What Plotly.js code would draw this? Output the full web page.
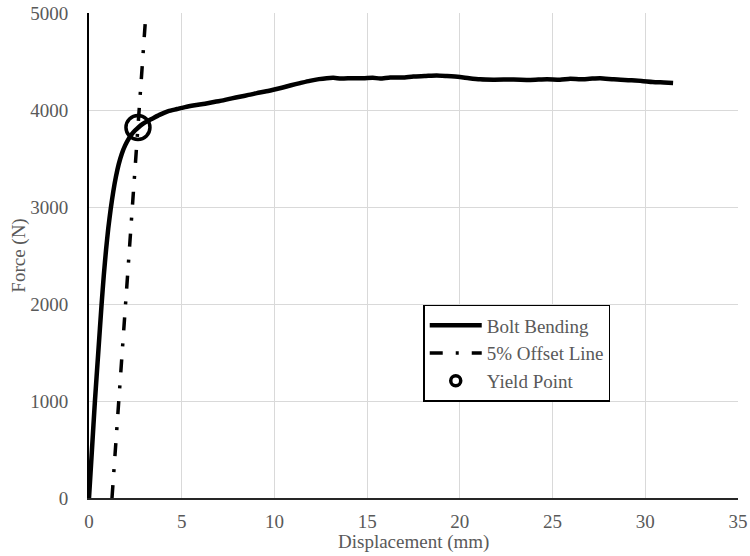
<!DOCTYPE html>
<html>
<head>
<meta charset="utf-8">
<script src="https://cdn.plot.ly/plotly-3.0.1.min.js"></script>
<style>html,body{margin:0;padding:0;background:#fff;}#chart{width:750px;height:556px;}</style>
</head>
<body>
<div id="chart"></div>
<script>
// Bolt Bending curve (Displacement mm, Force N)
const boltX = [0, 0.16, 0.32, 0.5, 0.68, 0.8, 0.92, 1.04, 1.17, 1.31, 1.45, 1.6, 1.77, 1.95, 2.13, 2.3, 2.48, 2.66, 2.9, 3.15, 3.4, 3.8, 4.28, 4.75, 5.18, 5.7, 6.26, 6.8, 7.24, 7.7, 8.2, 8.7, 9.05, 9.5, 9.94, 10.4, 10.9, 11.38, 11.9, 12.4, 12.82, 13.18, 13.6, 14.2, 14.8, 15.3, 15.7, 16.24, 16.9, 17.49, 18.1, 18.75, 19.3, 20.0, 20.5, 21.1, 21.8, 22.9, 23.8, 24.7, 25.4, 25.95, 26.5, 27.0, 27.56, 28.3, 29.18, 29.8, 30.4, 31.0, 31.5];
const boltY = [0, 500, 1000, 1500, 2000, 2300, 2560, 2780, 2980, 3160, 3310, 3440, 3550, 3635, 3700, 3748, 3788, 3820, 3856, 3885, 3910, 3950, 3989, 4010, 4030, 4048, 4065, 4085, 4099, 4120, 4140, 4158, 4174, 4190, 4209, 4230, 4255, 4277, 4300, 4318, 4328, 4332, 4324, 4328, 4327, 4333, 4324, 4336, 4334, 4346, 4350, 4356, 4350, 4340, 4328, 4317, 4313, 4314, 4310, 4317, 4312, 4322, 4317, 4322, 4328, 4316, 4307, 4300, 4289, 4284, 4279];
// 5% offset line
const offsetX = [1.24, 3.07];
const offsetY = [0, 5000];
// Yield point
const yieldX = [2.64];
const yieldY = [3820];

const fontFam = '"Liberation Serif", "Times New Roman", serif';
const grey = '#595959';

const traces = [
  {x: boltX, y: boltY, type: 'scatter', mode: 'lines', name: 'Bolt Bending',
   line: {color: '#000', width: 4.5, shape: 'spline', smoothing: 0.6}},
  {x: offsetX, y: offsetY, type: 'scatter', mode: 'lines', name: '5% Offset Line',
   line: {color: '#000', width: 3.5, dash: '13px,13px,3px,13px'}},
  {x: yieldX, y: yieldY, type: 'scatter', mode: 'markers', name: 'Yield Point', showlegend: false,
   marker: {symbol: 'circle-open', size: 24, color: '#000', line: {color: '#000', width: 3.5}}},
  // legend-only entry for the yield point symbol (smaller, as in the reference legend)
  {x: [null], y: [null], type: 'scatter', mode: 'markers', name: 'Yield Point',
   marker: {symbol: 'circle-open', size: 10, color: '#000', line: {color: '#000', width: 3.5}}}
];

const layout = {
  width: 750, height: 556,
  margin: {l: 89, r: 12, t: 13, b: 58},
  paper_bgcolor: '#fff', plot_bgcolor: '#fff',
  font: {family: fontFam, size: 19, color: grey},
  showlegend: true,
  legend: {
    x: 0.515, y: 0.398, xanchor: 'left', yanchor: 'top',
    bgcolor: '#fff', bordercolor: '#000', borderwidth: 1.5,
    font: {family: fontFam, size: 19, color: grey},
    itemsizing: 'trace', itemwidth: 52
  },
  xaxis: {
    range: [0, 35], dtick: 5, tick0: 0,
    showgrid: true, gridcolor: '#d9d9d9', gridwidth: 1,
    showline: true, linecolor: '#262626', linewidth: 1.5,
    zeroline: false,
    ticks: 'outside', ticklen: 6, tickcolor: 'rgba(0,0,0,0)',
    tickfont: {family: fontFam, size: 19, color: grey}
  },
  yaxis: {
    range: [0, 5000], dtick: 1000, tick0: 0,
    showgrid: true, gridcolor: '#d9d9d9', gridwidth: 1,
    showline: true, linecolor: '#000', linewidth: 2,
    zeroline: false,
    ticks: 'outside', ticklen: 15, tickcolor: 'rgba(0,0,0,0)',
    tickfont: {family: fontFam, size: 19, color: grey},
    title: {text: 'Force (N)', font: {family: fontFam, size: 19, color: grey}, standoff: 0}
  },
  annotations: [
    {text: 'Displacement (mm)', xref: 'paper', yref: 'paper', x: 0.5, y: -0.09,
     xanchor: 'center', yanchor: 'middle', showarrow: false,
     font: {family: fontFam, size: 19, color: grey}}
  ]
};

Plotly.newPlot('chart', traces, layout, {displayModeBar: false, staticPlot: true});
</script>
</body>
</html>
